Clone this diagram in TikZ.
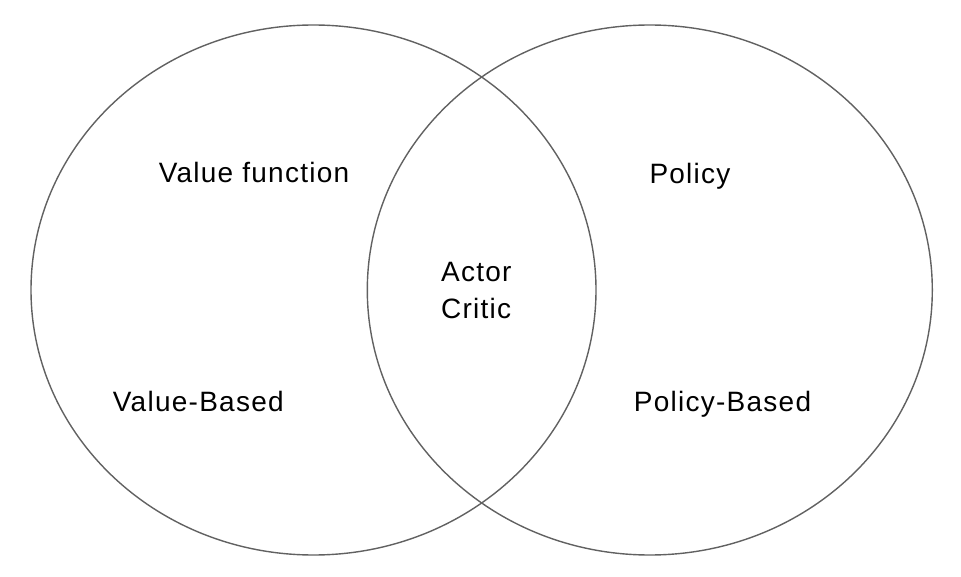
\documentclass[tikz,border=0pt]{standalone}
\usepackage{fontspec}
\setmainfont{Liberation Sans}[LetterSpace=4.5]
\begin{document}
\begin{tikzpicture}[x=1pt,y=-1pt,
  setcircle/.style={draw=black!62,line width=1.4pt},
  lbl/.style={anchor=base,inner sep=0pt,font=\fontsize{28}{34}\selectfont}]
\useasboundingbox (0,0) rectangle (961,577);
\draw[setcircle] (313.5,290) ellipse [x radius=282.5, y radius=265];
\draw[setcircle] (649.8,290) ellipse [x radius=282.5, y radius=265];
\node[lbl] (vf) at (254,182.5) {Value function};
\node[lbl] (pol) at (690,183.3) {Policy};
\node[lbl] (actor) at (476.3,281.7) {Actor};
\node[lbl] (critic) at (476.2,318.3) {Critic};
\node[lbl] (vb) at (198.3,411.7) {Value-Based};
\node[lbl] (pb) at (722.5,411.7) {Policy-Based};
\end{tikzpicture}
\end{document}
